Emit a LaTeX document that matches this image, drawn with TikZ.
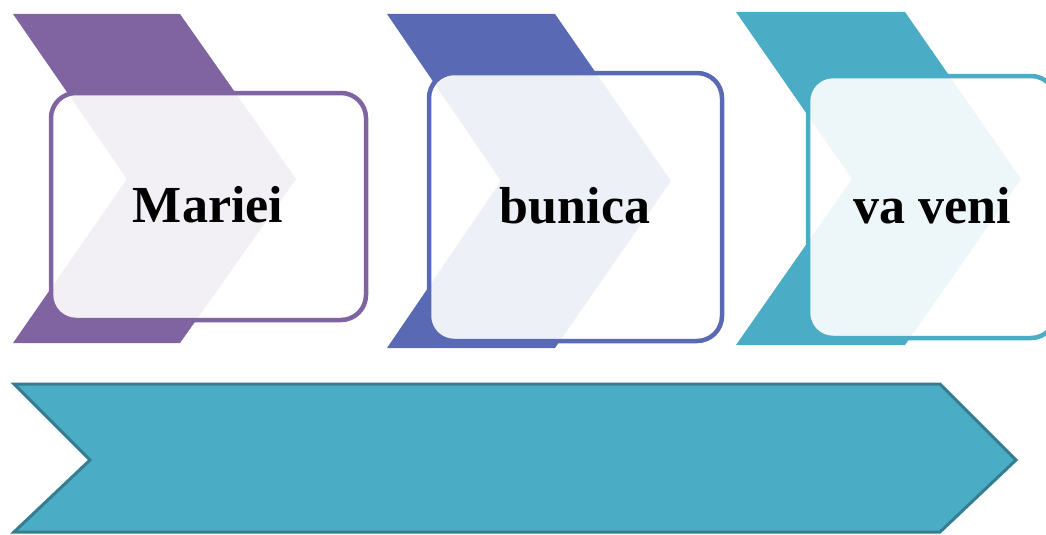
\documentclass[tikz,border=0pt]{standalone}
\usepackage{fontspec}
\setmainfont{Liberation Serif}
\definecolor{cpurple}{HTML}{8064A2}
\definecolor{cblue}{HTML}{5A69B4}
\definecolor{cteal}{HTML}{4BACC6}
\definecolor{cdark}{HTML}{357E92}
\tikzset{
  chev/.style={fill=#1, draw=none},
  card/.style={draw=#1, line width=4.5pt, fill=white, fill opacity=0.9, draw opacity=1, rounded corners=25pt},
  lbl/.style={font=\bfseries\fontsize{52}{62}\selectfont, anchor=base, text=black, inner sep=0pt},
  bigarrow/.style={fill=cteal, draw=cdark, line width=3pt, line join=miter}
}
\begin{document}
\begin{tikzpicture}[x=1pt,y=-1pt]
\useasboundingbox (0,0) rectangle (1046,535);
% chevrons
\path[chev=cpurple] (13,14) -- (180,14) -- (296,179) -- (180,343) -- (13,343) -- (127,179) -- cycle;
\path[chev=cblue] (387,14) -- (555,14) -- (671,181) -- (555,348) -- (387,348) -- (501,181) -- cycle;
\path[chev=cteal] (736,12) -- (905,12) -- (1021,179) -- (905,345) -- (736,345) -- (852,179) -- cycle;
% cards
\draw[card=cpurple] (51,93) rectangle (366,320);
\draw[card=cblue] (429,73) rectangle (722,341);
\draw[card=cteal] (808,76) rectangle (1056,338);
% labels
\node[lbl] (t1) at (208,222) {Mariei};
\node[lbl] (t2) at (575,223) {bunica};
\node[lbl] (t3) at (932,223) {va veni};
% bottom arrow
\draw[bigarrow] (14,384) -- (940,384) -- (1016,460) -- (940,532) -- (14,532) -- (90,460) -- cycle;
\end{tikzpicture}
\end{document}
